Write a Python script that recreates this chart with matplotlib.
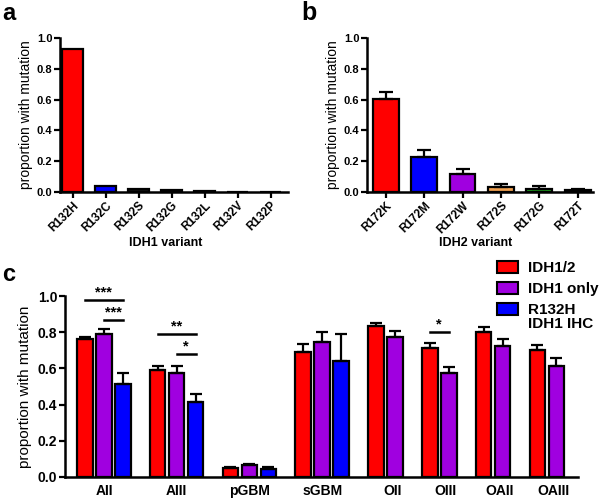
import numpy as np
import matplotlib
matplotlib.use('Agg')
import matplotlib.pyplot as plt
from matplotlib.patches import Rectangle

plt.rcParams['font.family'] = ['Liberation Sans', 'DejaVu Sans']

# panel a data
idh1_variants = ['R132H', 'R132C', 'R132S', 'R132G', 'R132L', 'R132V', 'R132P']
idh1_values = [0.927, 0.041, 0.017, 0.015, 0.006, 0.001, 0.001]
idh1_colors = ['#ff0000', '#0000ff', '#111111', '#111111', '#111111', '#111111', '#111111']

# panel b data
idh2_variants = ['R172K', 'R172M', 'R172W', 'R172S', 'R172G', 'R172T']
idh2_values = [0.602, 0.228, 0.115, 0.033, 0.022, 0.011]
idh2_err = [0.050, 0.044, 0.033, 0.021, 0.017, 0.011]
idh2_colors = ['#ff0000', '#0000ff', '#a000e0', '#f0a050', '#22aa22', '#111111']

# panel c data
tumour_types = ['AII', 'AIII', 'pGBM', 'sGBM', 'OII', 'OIII', 'OAII', 'OAIII']
series_names = ['IDH1/2', 'IDH1 only', 'R132H\nIDH1 IHC']
series_colors = ['#ff0000', '#a000e0', '#0000ff']
idh12 = [0.761, 0.592, 0.050, 0.692, 0.832, 0.713, 0.803, 0.700]
idh12_err = [0.015, 0.022, 0.007, 0.041, 0.017, 0.027, 0.024, 0.028]
idh1_only = [0.789, 0.574, 0.065, 0.744, 0.772, 0.573, 0.724, 0.615]
idh1_only_err = [0.027, 0.041, 0.007, 0.056, 0.036, 0.035, 0.040, 0.044]
r132h_ihc = [0.515, 0.412, 0.045, 0.639, None, None, None, None]
r132h_ihc_err = [0.057, 0.048, 0.012, 0.149, None, None, None, None]

# significance brackets: (group, first bar, last bar, height, label)
brackets = [(0, 0, 2, 0.978, '***'), (0, 1, 2, 0.867, '***'),
            (1, 0, 2, 0.790, '**'), (1, 1, 2, 0.680, '*'),
            (5, 0, 1, 0.800, '*')]

fig = plt.figure(figsize=(6, 4.99), dpi=100)

def style_axis(ax, fs):
    for s in ['top', 'right']:
        ax.spines[s].set_visible(False)
    for s in ['left', 'bottom']:
        ax.spines[s].set_linewidth(1.8)
    ax.tick_params(width=1.6, length=4, labelsize=fs, pad=1.5)
    ax.set_ylim(0, 1.0)
    ax.set_yticks([0, 0.2, 0.4, 0.6, 0.8, 1.0])
    ax.set_yticklabels(['0.0', '0.2', '0.4', '0.6', '0.8', '1.0'], fontweight='bold')

# ---- panel a
ax1 = fig.add_axes([0.1, 0.6152, 0.38, 0.3086])
x1 = np.arange(len(idh1_variants))
ax1.bar(x1, idh1_values, width=0.66, color=idh1_colors, edgecolor='black', linewidth=1.6)
ax1.set_xlim(-0.38, 6.53)
style_axis(ax1, 8)
ax1.set_xticks(x1)
ax1.set_xticklabels(idh1_variants, rotation=45, ha='right', rotation_mode='anchor',
                    fontsize=8.5, fontweight='bold')
ax1.set_ylabel('proportion with mutation', fontsize=10, labelpad=3)
ax1.set_xlabel('IDH1 variant', fontsize=9, fontweight='bold', va='center')
ax1.xaxis.set_label_coords(0.465, -0.331)

# ---- panel b
ax2 = fig.add_axes([0.6117, 0.6152, 0.3767, 0.3086])
x2 = np.arange(len(idh2_variants))
ax2.bar(x2, idh2_values, width=0.67, color=idh2_colors, edgecolor='black', linewidth=1.6)
ax2.errorbar(x2, idh2_values, yerr=[np.zeros(len(x2)), idh2_err], fmt='none',
             ecolor='black', elinewidth=1.6, capsize=5, capthick=1.6)
ax2.set_xlim(-0.49, 5.4)
style_axis(ax2, 8)
ax2.set_xticks(x2)
ax2.set_xticklabels(idh2_variants, rotation=45, ha='right', rotation_mode='anchor',
                    fontsize=8.5, fontweight='bold')
ax2.set_ylabel('proportion with mutation', fontsize=10, labelpad=3)
ax2.set_xlabel('IDH2 variant', fontsize=9, fontweight='bold', va='center')
ax2.xaxis.set_label_coords(0.48, -0.331)

# ---- panel c
ax3 = fig.add_axes([0.1083, 0.0441, 0.855, 0.3627])
gap = 0.83
series = [(idh12, idh12_err), (idh1_only, idh1_only_err), (r132h_ihc, r132h_ihc_err)]
pos = 0.0
group_start = []
tick_pos = []
for g in range(len(tumour_types)):
    group_start.append(pos)
    n = 0
    for k, (vals, errs) in enumerate(series):
        if vals[g] is None:
            continue
        ax3.bar(pos + k, vals[g], width=0.82, color=series_colors[k],
                edgecolor='black', linewidth=1.6)
        ax3.errorbar(pos + k, vals[g], yerr=[[0], [errs[g]]], fmt='none',
                     ecolor='black', elinewidth=1.6, capsize=4.5, capthick=1.6)
        n += 1
    tick_pos.append(pos + 1 if n == 3 else pos + 0.85)
    pos += n + gap

for g, b0, b1, h, lab in brackets:
    xs = group_start[g]
    ax3.plot([xs + b0, xs + b1], [h, h], color='black', lw=1.8, clip_on=False)
    ax3.text(xs + (b0 + b1) / 2, h + 0.005, lab, ha='center', va='bottom',
             fontsize=10.5, fontweight='bold')

ax3.set_xlim(-1.05, 25.95)
style_axis(ax3, 10)
ax3.set_xticks(tick_pos)
ax3.set_xticklabels(tumour_types, fontsize=10, fontweight='bold')
ax3.tick_params(axis='x', length=0, pad=5)
ax3.set_ylabel('proportion with mutation', fontsize=11, labelpad=4)

# legend for panel c
leg_y = [267, 288, 309]
for k, name in enumerate(series_names):
    yy = 1 - leg_y[k] / 499
    fig.add_artist(Rectangle((497 / 600, yy - 6 / 499), 21 / 600, 12 / 499,
                             facecolor=series_colors[k], edgecolor='black', lw=1.5,
                             transform=fig.transFigure))
    fig.text(528 / 600, yy + 6.5 / 499, name, ha='left', va='top', fontsize=11,
             fontweight='bold', linespacing=1.05)

# panel letters
fig.text(0.003, 0.995, 'a', fontsize=17, fontweight='bold', va='top')
fig.text(0.503, 0.997, 'b', fontsize=18, fontweight='bold', va='top')
fig.text(0.003, 1 - 263 / 499, 'c', fontsize=17, fontweight='bold', va='top')

fig.savefig('out.png', dpi=100)
